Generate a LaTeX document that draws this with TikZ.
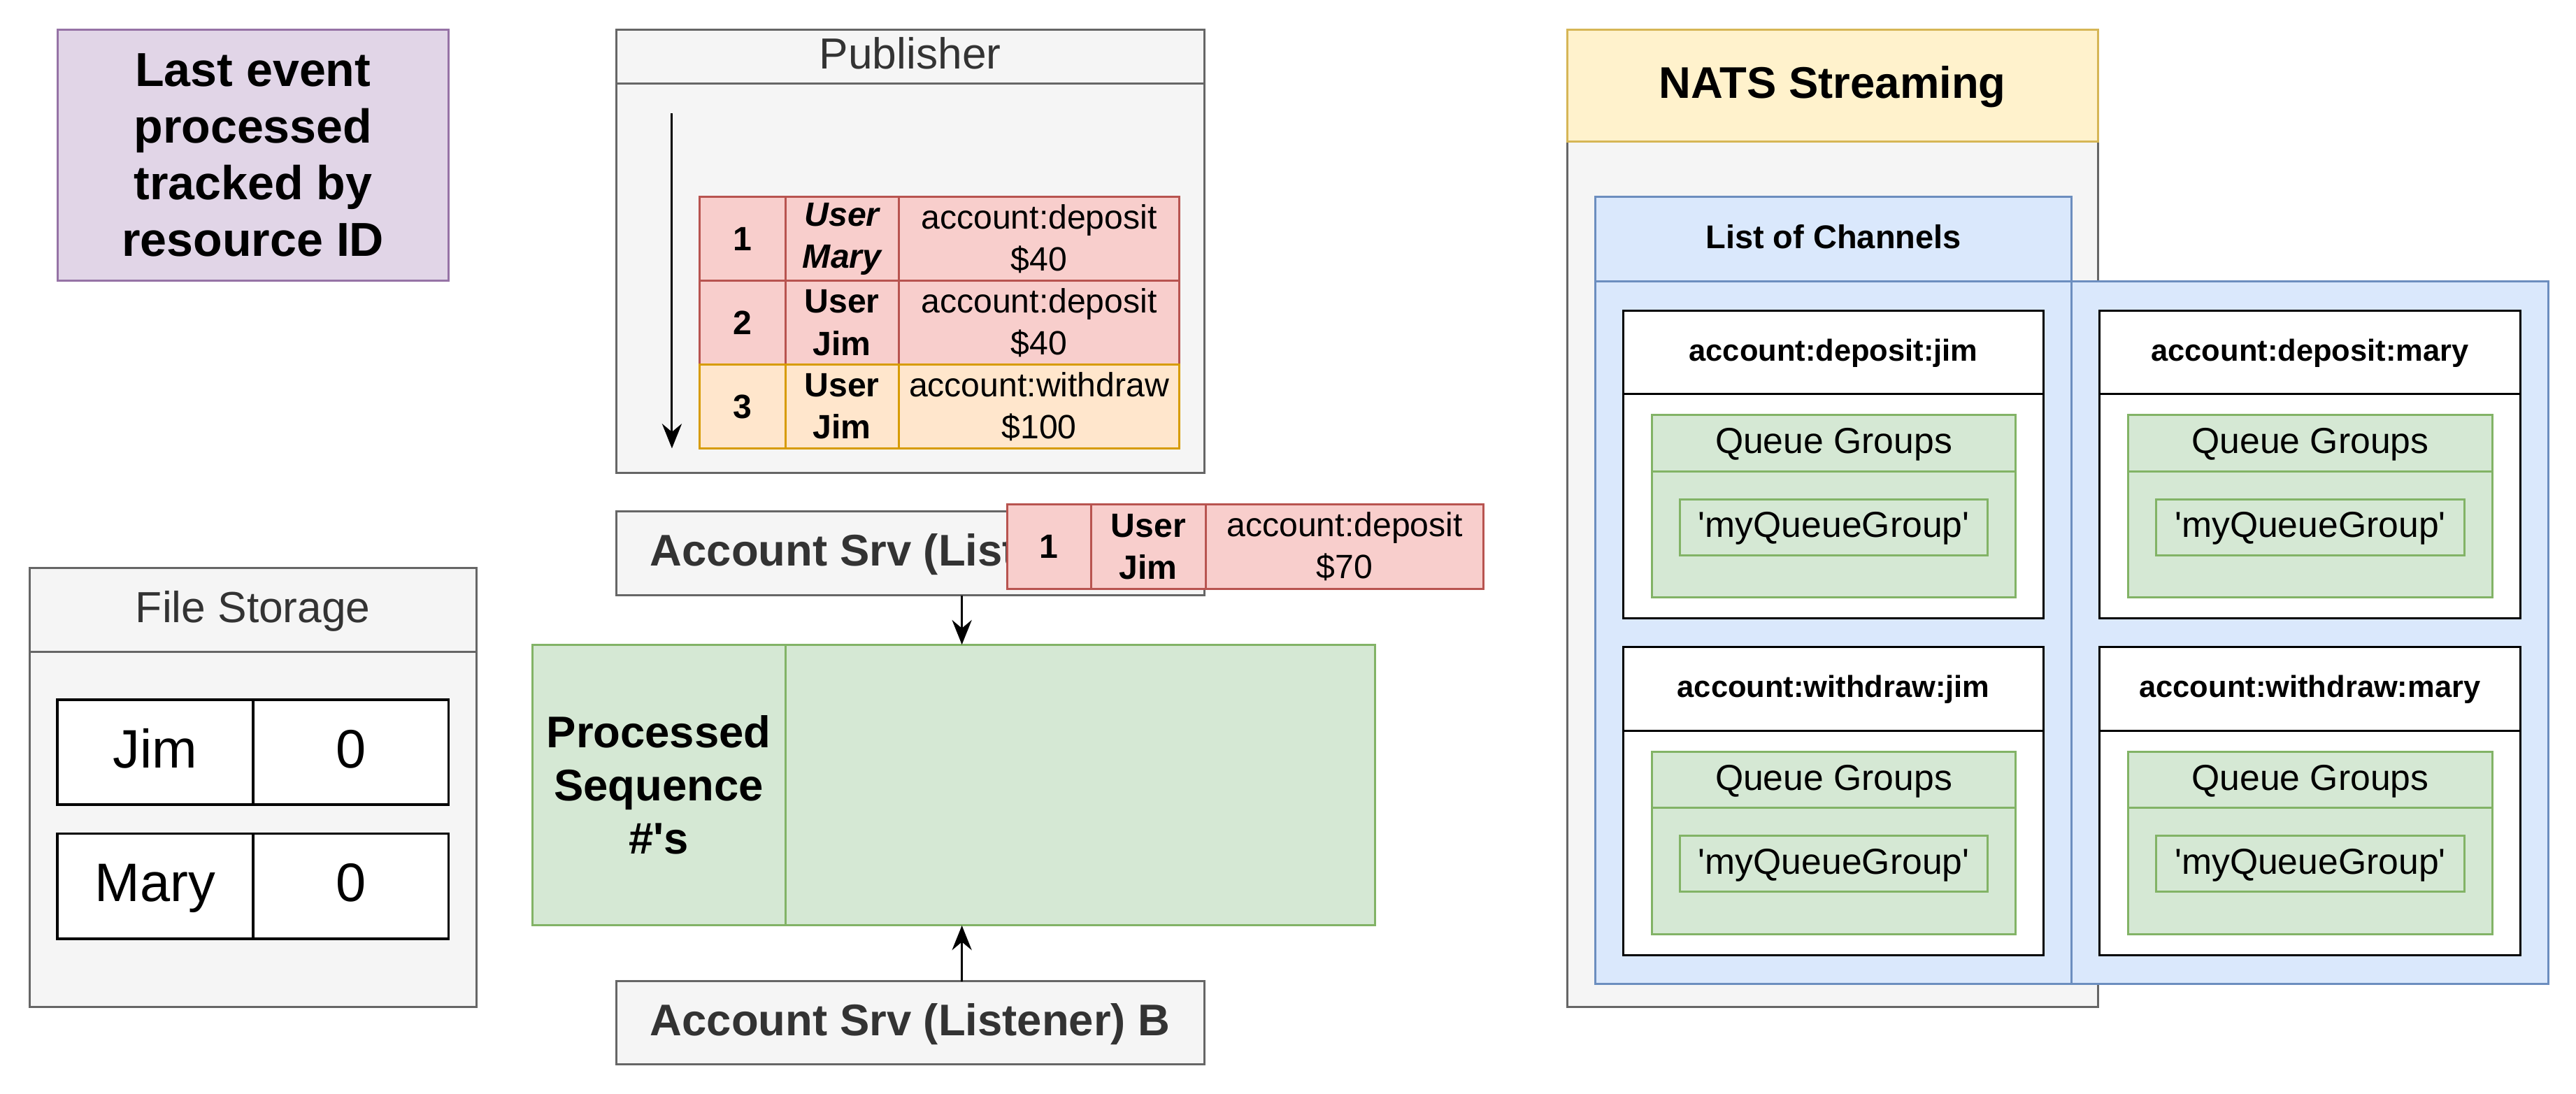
\documentclass[tikz,border=0pt]{standalone}
\usepackage{fontspec}
\setmainfont{Liberation Sans}
\usetikzlibrary{arrows.meta}
\definecolor{grayfill}{HTML}{F5F5F5}
\definecolor{graystroke}{HTML}{666666}
\definecolor{graytext}{HTML}{333333}
\definecolor{purplefill}{HTML}{E1D5E7}
\definecolor{purplestroke}{HTML}{9673A6}
\definecolor{redfill}{HTML}{F8CECC}
\definecolor{redstroke}{HTML}{B85450}
\definecolor{orangefill}{HTML}{FFE6CC}
\definecolor{orangestroke}{HTML}{D79B00}
\definecolor{greenfill}{HTML}{D5E8D4}
\definecolor{greenstroke}{HTML}{82B366}
\definecolor{yellowfill}{HTML}{FFF2CC}
\definecolor{yellowstroke}{HTML}{D6B656}
\definecolor{bluefill}{HTML}{DAE8FC}
\definecolor{bluestroke}{HTML}{6C8EBF}
\newcommand\fzPurple{\fontsize{29}{34.4}\selectfont\bfseries}
\newcommand\fzHead{\fontsize{26.5}{32}\selectfont}
\newcommand\fzAcct{\fontsize{27}{32.4}\selectfont\bfseries}
\newcommand\fzStore{\fontsize{33}{40}\selectfont}
\newcommand\fzCell{\fontsize{20.5}{25.6}\selectfont}
\newcommand\fzNats{\fontsize{27}{32}\selectfont\bfseries}
\newcommand\fzList{\fontsize{20}{24}\selectfont\bfseries}
\newcommand\fzChan{\fontsize{18.5}{22}\selectfont\bfseries}
\newcommand\fzQueue{\fontsize{22}{26}\selectfont}
\begin{document}
\begin{tikzpicture}[x=1pt,y=-1pt,
  every node/.style={inner sep=0pt,outer sep=0pt,anchor=center},
  bx/.style n args={4}{minimum width={((#3)-(#1))*1pt},minimum height={((#4)-(#2))*1pt},at={({((#1)+(#3))/2},{((#2)+(#4))/2})}},
  lw/.style={line width=1.3pt},
  graybox/.style={lw,draw=graystroke,fill=grayfill},
  purplebox/.style={lw,draw=purplestroke,fill=purplefill},
  redcell/.style={lw,draw=redstroke,fill=redfill,align=center,font=\fzCell},
  orangecell/.style={lw,draw=orangestroke,fill=orangefill,align=center,font=\fzCell},
  boldcell/.style={font=\fzCell\bfseries},
  bolditcell/.style={font=\fzCell\bfseries\itshape},
  greenbox/.style={lw,draw=greenstroke,fill=greenfill},
  yellowbox/.style={lw,draw=yellowstroke,fill=yellowfill},
  bluebox/.style={lw,draw=bluestroke,fill=bluefill},
  whitebox/.style={lw,draw=black,fill=white},
  storecell/.style={line width=1.5pt,draw=black,fill=white,font=\fzStore,text height=23.8pt,text depth=5pt},
  arrowsty/.style={lw,draw=black,-{Stealth[length=15pt,width=12pt,inset=5pt]}},
  hdrtext/.style={font=\fzHead,text=graytext,text height=19.1pt,text depth=4pt},
  accttext/.style={font=\fzAcct,text=graytext,text height=19.4pt,text depth=4pt},
  natstext/.style={font=\fzNats,text height=19.4pt,text depth=4pt},
  listtext/.style={font=\fzList,text height=14.4pt,text depth=3pt},
  chantext/.style={font=\fzChan,text height=13.3pt,text depth=2.8pt},
  queuetext/.style={font=\fzQueue,text height=15.8pt,text depth=3.3pt}
]
\useasboundingbox (0,0) rectangle (1568,666);

% Purple note
\node[purplebox,align=center,font=\fzPurple,bx={35}{18}{273}{171}] (note)
  {Last event\\processed\\tracked by\\resource ID};

% File storage
\node[graybox,bx={18}{346}{290}{613}] (store) {};
\node[hdrtext,bx={18}{346}{290}{397}] (storehead) {File Storage};
\draw[lw,graystroke] (storehead.south west) -- (storehead.south east);
\node[storecell,bx={35}{426}{154}{490}] (jimname) {Jim};
\node[storecell,bx={154}{426}{273}{490}] (jimval) {0};
\node[storecell,bx={35}{507.5}{154}{571.5}] (maryname) {Mary};
\node[storecell,bx={154}{507.5}{273}{571.5}] (maryval) {0};

% Publisher
\node[graybox,bx={375}{18}{733}{288}] (pub) {};
\node[hdrtext,bx={375}{18}{733}{51}] (pubhead) {Publisher};
\draw[lw,graystroke] (pubhead.south west) -- (pubhead.south east);
\coordinate (pubtop) at (409,69);
\coordinate (pubbot) at (409,273);
\draw[arrowsty] (pubtop) -- (pubbot);

\node[redcell,boldcell,bx={426}{120}{478}{171}] (e1n) {1};
\node[redcell,bolditcell,bx={478}{120}{547}{171}] (e1u) {User\\Mary};
\node[redcell,bx={547}{120}{718}{171}] (e1a) {account:deposit\\\$40};
\node[redcell,boldcell,bx={426}{171}{478}{222}] (e2n) {2};
\node[redcell,boldcell,bx={478}{171}{547}{222}] (e2u) {User\\Jim};
\node[redcell,bx={547}{171}{718}{222}] (e2a) {account:deposit\\\$40};
\node[orangecell,boldcell,bx={426}{222}{478}{273}] (e3n) {3};
\node[orangecell,boldcell,bx={478}{222}{547}{273}] (e3u) {User\\Jim};
\node[orangecell,bx={547}{222}{718}{273}] (e3a) {account:withdraw\\\$100};

% Processed sequence box
\node[greenbox,align=center,font=\fzAcct,bx={324}{392.5}{478}{563.5}] (procl)
  {Processed\\Sequence\\\#\textquotesingle s};
\node[greenbox,bx={478}{392.5}{837}{563.5}] (procr) {};
\path (procl.north west) -- (procr.north east) coordinate[pos=0.5,xshift=5pt] (gtop);
\path (procl.south west) -- (procr.south east) coordinate[pos=0.5,xshift=5pt] (gbot);

% Account services
\node[graybox,accttext,bx={375}{311.5}{733}{362.5}] (acctA) {Account Srv (Listener) A};
\node[graybox,accttext,bx={375}{597.5}{733}{648}] (acctB) {Account Srv (Listener) B};
\draw[arrowsty] (acctA.south -| gtop) -- (gtop);
\draw[arrowsty] (acctB.north -| gbot) -- (gbot);

% Message in flight
\node[redcell,boldcell,bx={613}{307}{664}{358.5}] (m1n) {1};
\node[redcell,boldcell,bx={664}{307}{734}{358.5}] (m1u) {User\\Jim};
\node[redcell,bx={734}{307}{903}{358.5}] (m1a) {account:deposit\\\$70};

% NATS Streaming
\node[graybox,bx={954}{86}{1277}{613}] (natsbody) {};
\node[yellowbox,natstext,bx={954}{18}{1277}{86}] (natshead) {NATS Streaming};

\node[bluebox,bx={971}{120}{1261}{599}] (list) {};
\node[listtext,bx={971}{120}{1261}{171.4}] (listhead) {List of Channels};
\draw[lw,bluestroke] (listhead.south west) -- (listhead.south east);
\node[bluebox,bx={1261}{171.4}{1551}{599}] (listright) {};

\foreach \cx/\cy/\lbl/\nm in {988/189/{account:deposit:jim}/dj,1278/189/{account:deposit:mary}/dm,988/394/{account:withdraw:jim}/wj,1278/394/{account:withdraw:mary}/wm}{
  \node[whitebox,bx={\cx}{\cy}{\cx+256}{\cy+187.5}] (ch\nm) {};
  \node[chantext,bx={\cx}{\cy}{\cx+256}{\cy+51}] (chh\nm) {\lbl};
  \draw[lw] (chh\nm.south west) -- (chh\nm.south east);
  \node[greenbox,bx={\cx+17.4}{\cy+63.6}{\cx+239}{\cy+174.7}] (qg\nm) {};
  \node[queuetext,bx={\cx+17.4}{\cy+63.6}{\cx+239}{\cy+98}] (qgh\nm) {Queue Groups};
  \draw[lw,greenstroke] (qgh\nm.south west) -- (qgh\nm.south east);
  \node[greenbox,queuetext,bx={\cx+34.5}{\cy+115}{\cx+222}{\cy+149}] (mq\nm)
    {\textquotesingle myQueueGroup\textquotesingle};
}
\end{tikzpicture}
\end{document}
